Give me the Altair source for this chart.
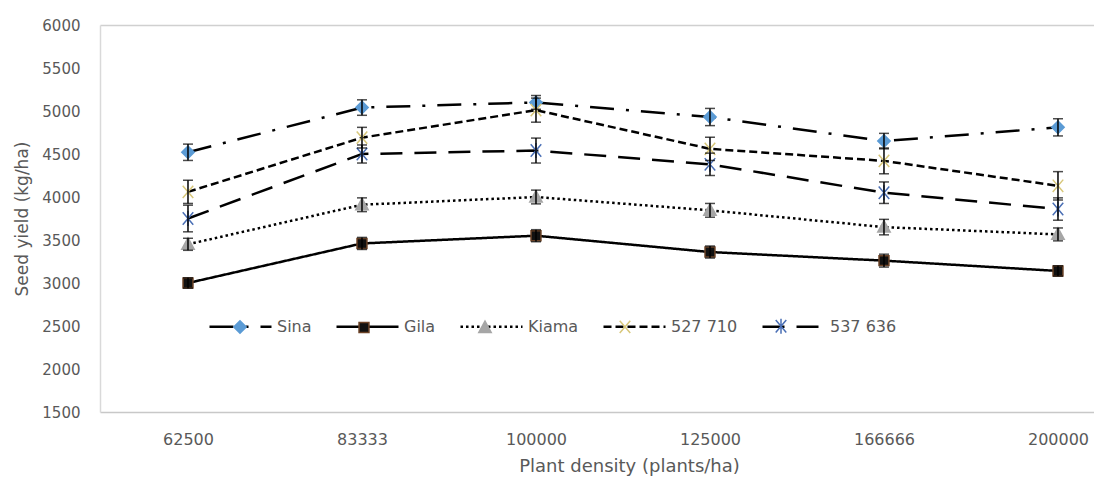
import json
import altair as alt
import pandas as pd

# ---- data ----
densities = ["62500", "83333", "100000", "125000", "166666", "200000"]
varieties = ["Sina", "Gila", "Kiama", "527 710", "537 636"]

sina = [4520, 5040, 5100, 4930, 4650, 4810]
gila = [3000, 3460, 3550, 3360, 3260, 3140]
kiama = [3450, 3910, 4000, 3845, 3650, 3565]
v527710 = [4060, 4690, 5010, 4560, 4420, 4130]
v537636 = [3750, 4500, 4540, 4380, 4050, 3860]

err_sina = [95, 90, 80, 100, 90, 100]
err_gila = [60, 70, 70, 70, 75, 60]
err_kiama = [70, 80, 80, 80, 90, 75]
err_527710 = [135, 120, 140, 135, 150, 165]
err_537636 = [155, 105, 145, 130, 125, 130]

values = [sina, gila, kiama, v527710, v537636]
errors = [err_sina, err_gila, err_kiama, err_527710, err_537636]

# ---- styles ----
dashes = [[24, 12, 3, 12], [1, 0], [2.5, 3], [8, 4], [22, 12]]
HALF = 31  # half width of a legend sample, px
EXT = "M-1,0L-1,0M1,0L1,0"


def dash_path(pat):
    if pat[1] == 0:
        return "M-1,0L1,0"
    out = [EXT]
    x, i, on = -HALF, 0, True
    while x < HALF:
        x2 = min(x + pat[i % len(pat)], HALF)
        if on:
            out.append(f"M{x / HALF:.4f},0L{x2 / HALF:.4f},0")
        x, i, on = x2, i + 1, not on
    return "".join(out)


legend_lines = [dash_path(p) for p in dashes]

shapes = [
    EXT + "M0,-0.2L0.2,0L0,0.2L-0.2,0Z",
    EXT + "M-0.16,-0.16L0.16,-0.16L0.16,0.16L-0.16,0.16Z",
    EXT + "M0,-0.21L0.2,0.16L-0.2,0.16Z",
    EXT + "M-0.17,-0.2L0.17,0.2M-0.17,0.2L0.17,-0.2",
    EXT + "M-0.17,-0.2L0.17,0.2M-0.17,0.2L0.17,-0.2M0,-0.24L0,0.24",
]
fills = ["#5b9bd5", "#111111", "#a6a6a6", "transparent", "transparent"]
strokes = ["#5b9bd5", "#6b4226", "#a6a6a6", "#d8c77a", "#4a6fb5"]

rows = []
for k, var in enumerate(varieties):
    for i, d in enumerate(densities):
        v = values[k][i]
        e = errors[k][i]
        rows.append({"idx": i, "density": d, "variety": var, "variety2": var,
                     "variety3": var, "order": k, "y": v, "lo": v - e, "hi": v + e})
df = pd.DataFrame(rows)

TXT = "#595959"
FONT = "DejaVu Sans"
label_expr = json.dumps(densities) + "[datum.value]"

x_axis = alt.Axis(values=list(range(len(densities))), labelExpr=label_expr,
                  grid=False, ticks=False, tickSize=0, labelPadding=19,
                  labelFont=FONT, labelFontSize=16, labelColor=TXT,
                  domainColor="#c8c8c8", domainWidth=1.5,
                  titleFont=FONT, titleFontSize=18, titleFontWeight="normal",
                  titleColor=TXT, titlePadding=10, titleX=529)
x_scale = alt.Scale(domain=[-0.5057, 5.207], nice=False, zero=False)

y_axis = alt.Axis(values=list(range(1500, 6001, 500)), format="d", ticks=False, tickSize=0,
                  labelPadding=20, labelFont=FONT, labelFontSize=15, labelColor=TXT,
                  domainColor="#d9d9d9", domainWidth=1.5,
                  grid=True, gridColor="#d0d0d0", gridWidth=1.5,
                  gridOpacity={"condition": {"test": "datum.value === 6000", "value": 1}, "value": 0},
                  titleFont=FONT, titleFontSize=17, titleFontWeight="normal",
                  titleColor=TXT, titlePadding=10)
y_scale = alt.Scale(domain=[1500, 6000], nice=False, zero=False)

XT = "Plant density (plants/ha)"
YT = "Seed yield (kg/ha)"


def xenc():
    return alt.X("idx:Q", scale=x_scale, axis=x_axis, title=XT)


def yenc(field):
    return alt.Y(f"{field}:Q", scale=y_scale, axis=y_axis, title=YT)


sort1 = alt.EncodingSortField(field="order", op="min")

leg_common = dict(orient="none", legendX=108, legendY=269, direction="horizontal",
                  symbolSize=(2 * HALF) ** 2, labelFont=FONT, labelFontSize=16,
                  labelColor=TXT, labelOffset=4, columnPadding=19, title=None, padding=0)

line_legend = alt.Legend(symbolStrokeColor="black", symbolFillColor="transparent",
                         symbolStrokeWidth=2.5, symbolOpacity=1, **leg_common)
point_legend = alt.Legend(symbolStrokeWidth=1.5, labelOpacity=0, **leg_common)

base = alt.Chart(df)

lines = base.mark_line(color="black", strokeWidth=2.5).encode(
    x=xenc(), y=yenc("y"),
    strokeDash=alt.StrokeDash("variety:N", sort=sort1,
                              scale=alt.Scale(range=dashes), legend=None),
)

# legend-only layer: draws no marks, supplies the line samples of the legend
legend_samples = base.transform_filter("false").mark_point(
    color="black", filled=False, strokeWidth=2.5).encode(
    shape=alt.Shape("variety3:N", scale=alt.Scale(domain=varieties, range=legend_lines),
                    legend=line_legend),
)

points = base.mark_point(size=(2 * HALF) ** 2, opacity=1, strokeWidth=1.5).encode(
    x=xenc(), y=yenc("y"),
    shape=alt.Shape("variety2:N", sort=sort1, scale=alt.Scale(range=shapes), legend=point_legend),
    fill=alt.Fill("variety2:N", sort=sort1, scale=alt.Scale(range=fills), legend=point_legend),
    stroke=alt.Stroke("variety2:N", sort=sort1, scale=alt.Scale(range=strokes), legend=point_legend),
)

err_rule = base.mark_rule(color="black", strokeWidth=1.5).encode(
    x=xenc(), y=yenc("lo"), y2="hi:Q")
cap_lo = base.mark_tick(color="black", orient="horizontal", size=10,
                        thickness=1.5).encode(x=xenc(), y=yenc("lo"))
cap_hi = base.mark_tick(color="black", orient="horizontal", size=10,
                        thickness=1.5).encode(x=xenc(), y=yenc("hi"))

chart = alt.layer(lines, legend_samples, points, err_rule, cap_lo, cap_hi).resolve_scale(
    shape="independent", fill="independent", stroke="independent"
).resolve_legend(
    shape="independent", fill="independent", stroke="independent"
).properties(
    width=994, height=387,
    autosize=alt.AutoSizeParams(type="none"),
    padding={"left": 92, "top": 17, "right": 0, "bottom": 66},
    background="white",
).configure_view(stroke=None)

chart.save("out.html", embed_options={"renderer": "svg", "actions": False})
